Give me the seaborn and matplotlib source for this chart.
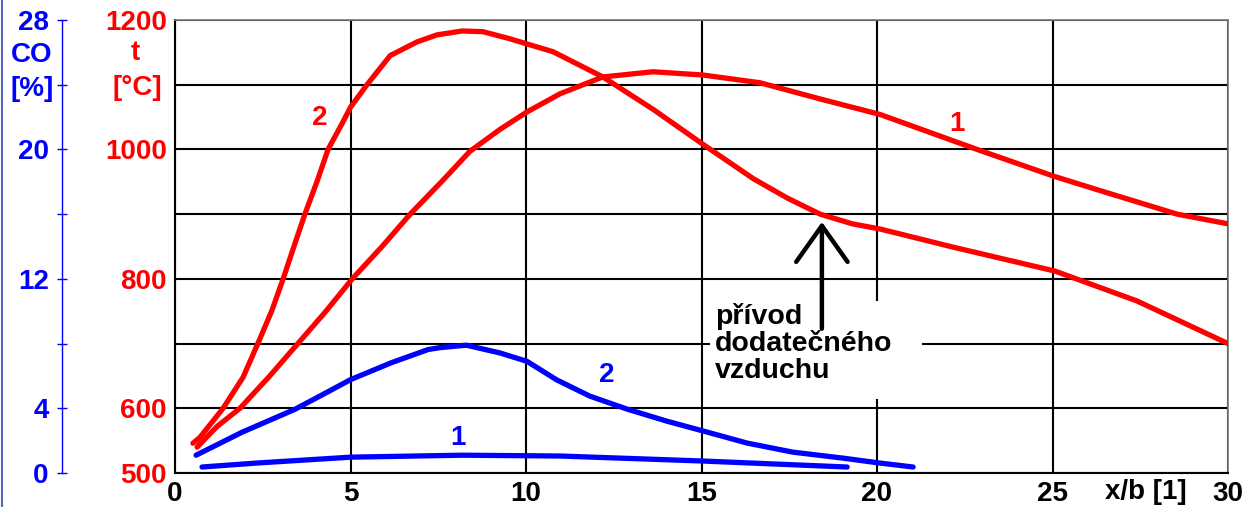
import matplotlib
matplotlib.use("Agg")
import matplotlib.pyplot as plt
from matplotlib.lines import Line2D
from matplotlib.patches import Rectangle
from matplotlib.ticker import FixedLocator, FuncFormatter
import seaborn as sns
import pandas as pd

# ---- data ----
# temperature t [°C], curves 1 and 2
t1_x = [0.63, 1.20, 1.85, 2.70, 3.50, 4.27, 5.05, 5.90, 6.70, 7.61, 8.40, 9.26, 10.03,
        10.97, 12.19, 13.62, 15.04, 16.67, 18.38, 20.09, 22.85, 25.07, 26.44, 28.55, 30.0]
t1_y = [540, 572, 600, 650, 700, 748, 800, 850, 900, 951, 997, 1031, 1058,
        1086, 1112, 1120, 1115, 1103, 1078, 1054, 1000, 958, 935, 900, 885]

t2_x = [0.51, 0.71, 1.37, 1.94, 2.36, 2.76, 3.08, 3.42, 3.70, 4.05, 4.36, 4.76, 5.01,
        5.47, 6.13, 6.89, 7.46, 8.18, 8.77, 9.54, 10.03, 10.77, 12.19, 13.62, 15.04,
        16.47, 17.44, 18.38, 19.30, 20.09, 22.17, 25.07, 27.40, 30.0]
t2_y = [546, 555, 600, 648, 700, 751, 800, 855, 900, 951, 1000, 1040, 1066,
        1100, 1145, 1166, 1177, 1183, 1182, 1171, 1163, 1151, 1112, 1062, 1008,
        955, 925, 900, 885, 877, 849, 812, 766, 700]

# CO [%], curves 1 and 2
co1_x = [0.77, 2.36, 5.01, 8.18, 10.97, 15.04, 19.15]
co1_y = [0.37, 0.62, 0.98, 1.10, 1.05, 0.74, 0.37]

co2_x = [0.60, 1.91, 3.42, 4.27, 5.01, 6.18, 7.21, 7.55, 8.30, 9.26, 10.03, 10.88,
         11.82, 12.88, 14.02, 15.04, 16.30, 17.60, 19.03, 20.06, 21.03]
co2_y = [1.10, 2.52, 3.94, 4.92, 5.78, 6.83, 7.63, 7.75, 7.90, 7.42, 6.90, 5.75,
         4.75, 3.95, 3.20, 2.60, 1.85, 1.29, 0.92, 0.62, 0.37]

x_ticks = [0, 5, 10, 15, 20, 25, 30]
t_grid = [500, 600, 700, 800, 900, 1000, 1100, 1200]
t_labelled = [500, 600, 800, 1000, 1200]
co_ticks = [0, 4, 12, 20, 28]
co_minor = [8, 16, 24]

RED = "#ff0000"
BLUE = "#0000ff"
FS = 20

sns.set_style("white")
plt.rcParams["font.family"] = ["Liberation Sans", "DejaVu Sans"]
plt.rcParams["font.weight"] = "bold"
plt.rcParams["text.color"] = "black"
plt.rcParams["xtick.color"] = "black"
plt.rcParams["ytick.color"] = "black"

fig = plt.figure(figsize=(12.51, 5.07), dpi=100)
ax = fig.add_axes([175 / 1251, 34 / 507, 1053 / 1251, 453 / 507])

# red temperature curves
for xs, ys in [(t1_x, t1_y), (t2_x, t2_y)]:
    d = pd.DataFrame({"x": xs, "y": ys})
    sns.lineplot(data=d, x="x", y="y", ax=ax, color=RED, lw=3.8,
                 estimator=None, solid_capstyle="round", solid_joinstyle="round", zorder=3)

ax.set_xlim(0, 30)
ax.set_ylim(500, 1200)
ax.xaxis.set_major_locator(FixedLocator(x_ticks))
ax.yaxis.set_major_locator(FixedLocator(t_grid))
ax.yaxis.set_major_formatter(FuncFormatter(
    lambda v, p: str(int(round(v))) if int(round(v)) in t_labelled else ""))
ax.grid(True, color="black", lw=1.5)
ax.set_axisbelow(True)
ax.set_xlabel("")
ax.set_ylabel("")
ax.tick_params(axis="y", length=0, pad=6, labelsize=FS, labelcolor=RED)
ax.tick_params(axis="x", length=0, pad=6, labelsize=FS, labelcolor="black")
for lab in ax.get_xticklabels() + ax.get_yticklabels():
    lab.set_fontweight("bold")
for s in ["left", "bottom"]:
    ax.spines[s].set_color("black")
    ax.spines[s].set_linewidth(1.5)
for s in ["top", "right"]:
    ax.spines[s].set_color("#777777")
    ax.spines[s].set_linewidth(1.2)

# blue CO axis on the far left
ax2 = ax.twinx()
for xs, ys in [(co1_x, co1_y), (co2_x, co2_y)]:
    d = pd.DataFrame({"x": xs, "y": ys})
    sns.lineplot(data=d, x="x", y="y", ax=ax2, color=BLUE, lw=3.8,
                 estimator=None, solid_capstyle="round", solid_joinstyle="round", zorder=3)
ax2.set_ylim(0, 28)
ax2.set_ylabel("")
ax2.yaxis.set_ticks_position("left")
ax2.yaxis.set_label_position("left")
ax2.spines["left"].set_position(("axes", -0.1073))
ax2.spines["left"].set_color(BLUE)
ax2.spines["left"].set_linewidth(1.0)
for s in ["right", "top", "bottom"]:
    ax2.spines[s].set_visible(False)
ax2.yaxis.set_major_locator(FixedLocator(co_ticks))
ax2.yaxis.set_minor_locator(FixedLocator(co_minor))
ax2.tick_params(axis="y", which="both", direction="inout", length=7, width=1,
                color=BLUE, labelcolor=BLUE, labelsize=FS, pad=6,
                left=True, right=False, labelleft=True, labelright=False)
for lab in ax2.get_yticklabels():
    lab.set_fontweight("bold")

# axis titles
ax.text(-0.136, 0.923, "CO", transform=ax.transAxes, color=BLUE, fontsize=FS,
        fontweight="bold", ha="center", va="center")
ax.text(-0.136, 0.848, "[%]", transform=ax.transAxes, color=BLUE, fontsize=FS,
        fontweight="bold", ha="center", va="center")
ax.text(-0.038, 0.927, "t", transform=ax.transAxes, color=RED, fontsize=FS,
        fontweight="bold", ha="center", va="center")
ax.text(-0.036, 0.85, "[°C]", transform=ax.transAxes, color=RED, fontsize=FS,
        fontweight="bold", ha="center", va="center")
ax.text(27.66, -0.042, "x/b [1]", transform=ax.get_xaxis_transform(),
        fontsize=FS, fontweight="bold", ha="center", va="center", clip_on=False)

# curve numbers
ax.text(4.13, 1048, "2", color=RED, fontsize=FS, fontweight="bold", ha="center", va="center")
ax.text(22.28, 1040, "1", color=RED, fontsize=FS, fontweight="bold", ha="center", va="center")
ax2.text(12.31, 6.03, "2", color=BLUE, fontsize=FS, fontweight="bold", ha="center", va="center")
ax2.text(8.06, 2.15, "1", color=BLUE, fontsize=FS, fontweight="bold", ha="center", va="center")

# note about extra air supply, on a white box that hides the grid
ax.add_patch(Rectangle((15.24, 615), 6.04, 151, fc="white", ec="none", zorder=2))
ax.text(15.38, 762, "přívod\ndodatečného\nvzduchu", fontsize=20.5, fontweight="bold",
        color="black", ha="left", va="top", linespacing=1.05, zorder=4)
ax.annotate("", xy=(18.43, 888), xytext=(18.43, 723),
            arrowprops=dict(arrowstyle="->,head_length=2.6,head_width=1.85",
                            lw=3.2, color="black", mutation_scale=10,
                            shrinkA=0, shrinkB=0),
            zorder=5)

fig.add_artist(Line2D([0.0012, 0.0012], [0, 1], color="#5566bb", lw=1.5))

fig.savefig("out.png", dpi=100)
